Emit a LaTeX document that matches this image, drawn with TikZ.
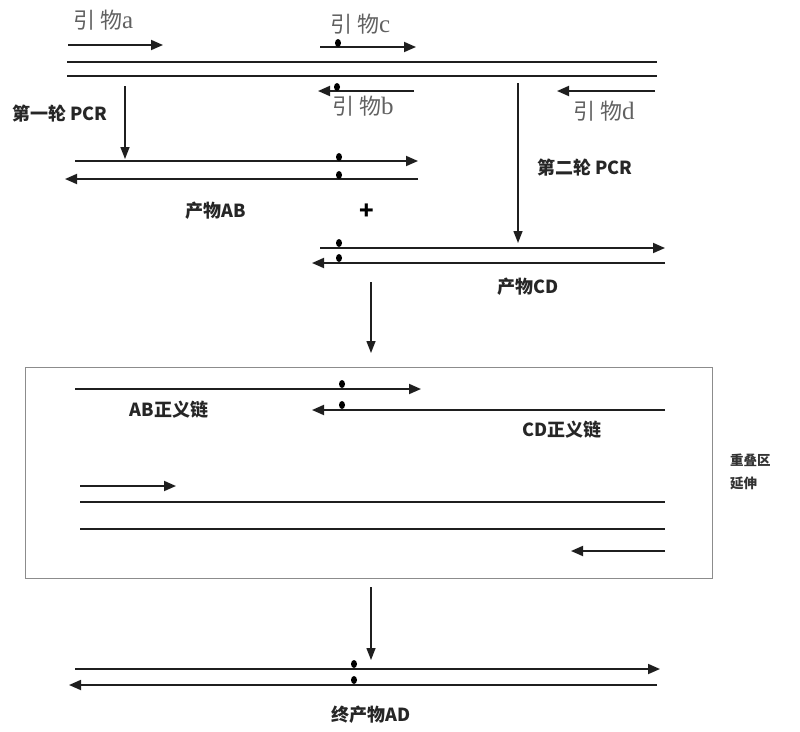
\documentclass[tikz,border=0pt]{standalone}
\usepackage{fontspec}
\newfontfamily\cjk{Noto Sans CJK SC}
\newfontfamily\lat{Liberation Serif}
\usetikzlibrary{arrows.meta,shapes.geometric}
\newcommand{\prm}[1]{引\hspace{5pt}物{\lat\fontsize{25}{25}\selectfont #1}}
\begin{document}
\begin{tikzpicture}[x=1pt,y=-1pt,
  strand/.style={line width=1.8pt,color=black!88},
  fwd/.style={strand,-{Triangle[length=12pt,width=10pt]}},
  flow/.style={line width=1.4pt,color=black!88,-{Triangle[length=12pt,width=9pt]}},
  blob/.style={fill=black,draw=none,ellipse,minimum width=6pt,minimum height=8pt,inner sep=0pt},
  primer/.style={font=\cjk\fontsize{22}{22}\selectfont,text=black!62,inner sep=0pt},
  lbl/.style={font=\cjk\bfseries\fontsize{18}{20}\selectfont,text=black!85,inner sep=0pt},
  small/.style={font=\cjk\bfseries\fontsize{13.5}{23}\selectfont,text=black!80,inner sep=0pt},
  frame/.style={draw=black!45,line width=1pt}]
\useasboundingbox (0,0) rectangle (800,731);
% ---- template & primers
\coordinate (a1) at (68,45);  \coordinate (a2) at (163,45);
\coordinate (c1) at (320,47); \coordinate (c2) at (416,47);
\coordinate (t1) at (67,62);  \coordinate (t2) at (657,62);
\coordinate (u1) at (67,76);  \coordinate (u2) at (657,76);
\coordinate (b1) at (414,91); \coordinate (b2) at (318,91);
\coordinate (d1) at (655,91); \coordinate (d2) at (557,91);
\draw[fwd] (a1) -- (a2);
\draw[fwd] (c1) -- (c2);
\draw[strand] (t1) -- (t2);
\draw[strand] (u1) -- (u2);
\draw[fwd] (b1) -- (b2);
\draw[fwd] (d1) -- (d2);
\node[blob] (dc) at (338,43) {};
\node[blob] (db) at (337,87) {};
\node[primer,anchor=west] (la) at (73,20) {\prm{a}};
\node[primer,anchor=west] (lc) at (330,24) {\prm{c}};
\node[primer,anchor=west] (lb) at (332,106) {\prm{b}};
\node[primer,anchor=west] (ld) at (573,111) {\prm{d}};
% ---- first PCR
\node[lbl,anchor=west] (p1) at (12,114) {第一轮 PCR};
\coordinate (f1) at (125,86); \coordinate (f2) at (125,159);
\draw[flow] (f1) -- (f2);
\coordinate (ab1) at (75,161);  \coordinate (ab2) at (418,161);
\coordinate (ab3) at (418,179); \coordinate (ab4) at (65,179);
\draw[fwd] (ab1) -- (ab2);
\draw[fwd] (ab3) -- (ab4);
\node[blob] (dab1) at (339,157) {};
\node[blob] (dab2) at (339,175) {};
\node[lbl] (pab) at (216,211) {产物AB};
\node[font=\cjk\bfseries\fontsize{24}{24}\selectfont,inner sep=0pt] (plus) at (367,212) {+};
% ---- second PCR
\coordinate (s1) at (518,83); \coordinate (s2) at (518,243);
\draw[flow] (s1) -- (s2);
\node[lbl,anchor=west] (p2) at (537,168) {第二轮 PCR};
\coordinate (cd1) at (320,248); \coordinate (cd2) at (665,248);
\coordinate (cd3) at (665,263); \coordinate (cd4) at (312,263);
\draw[fwd] (cd1) -- (cd2);
\draw[fwd] (cd3) -- (cd4);
\node[blob] (dcd1) at (339,243) {};
\node[blob] (dcd2) at (339,258) {};
\node[lbl] (pcd) at (528,287) {产物CD};
\coordinate (g1) at (371,282); \coordinate (g2) at (371,353);
\draw[flow] (g1) -- (g2);
% ---- overlap box
\node[frame,minimum width=687pt,minimum height=211pt,inner sep=0pt] (box) at (368.5,472.5) {};
\coordinate (o1) at (75,389);  \coordinate (o2) at (421,389);
\coordinate (o3) at (665,410); \coordinate (o4) at (312,410);
\draw[fwd] (o1) -- (o2);
\draw[fwd] (o3) -- (o4);
\node[blob] (do1) at (342,384) {};
\node[blob] (do2) at (342,405) {};
\node[lbl] (abs) at (169,410) {AB正义链};
\node[lbl] (cds) at (562,430) {CD正义链};
\node[small,align=left,anchor=north west] (ext) at (730,454) {重叠区\\延伸};
\coordinate (e1) at (80,486);  \coordinate (e2) at (176,486);
\coordinate (m1) at (80,502);  \coordinate (m2) at (665,502);
\coordinate (n1) at (80,529);  \coordinate (n2) at (665,529);
\coordinate (k1) at (665,551); \coordinate (k2) at (571,551);
\draw[fwd] (e1) -- (e2);
\draw[strand] (m1) -- (m2);
\draw[strand] (n1) -- (n2);
\draw[fwd] (k1) -- (k2);
% ---- final
\coordinate (h1) at (371,587); \coordinate (h2) at (371,660);
\draw[flow] (h1) -- (h2);
\coordinate (fa1) at (75,669);  \coordinate (fa2) at (660,669);
\coordinate (fa3) at (657,685); \coordinate (fa4) at (69,685);
\draw[fwd] (fa1) -- (fa2);
\draw[fwd] (fa3) -- (fa4);
\node[blob] (dfa1) at (354,664) {};
\node[blob] (dfa2) at (354,680) {};
\node[lbl] (pad) at (371,715) {终产物AD};
\end{tikzpicture}
\end{document}
